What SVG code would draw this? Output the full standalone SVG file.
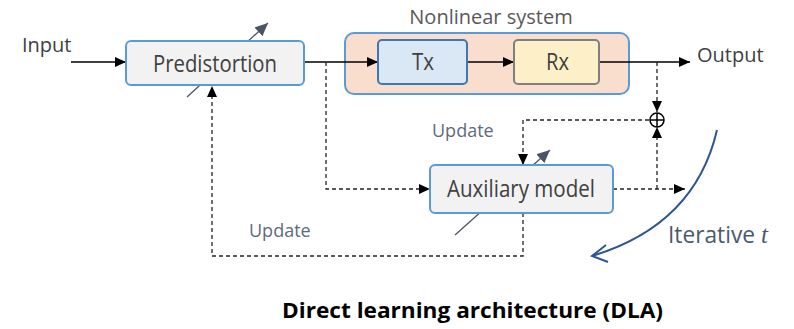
<svg xmlns="http://www.w3.org/2000/svg" width="794" height="329" viewBox="0 0 794 329">
<style>
text{font-family:"Open Sans","Noto Sans",sans-serif;}
.lbl{font-size:20px;fill:#404040;}
.big{font-size:23px;fill:#404040;}
.upd{font-size:18px;fill:#5d6b80;}
.box{fill:#f2f2f2;stroke:#5b9bd5;stroke-width:2;}
.solid{fill:none;stroke:#000;stroke-width:1.3;}
.dash{fill:none;stroke:#222;stroke-width:1.3;stroke-dasharray:4 3;}
.adj{fill:none;stroke:#4a5568;stroke-width:1.3;}
</style>
<defs>
<marker id="ah" markerUnits="userSpaceOnUse" markerWidth="12" markerHeight="10" refX="11" refY="5" orient="auto">
<path d="M0,0 L11,5 L0,10 z" fill="#000"/>
</marker>
<marker id="adjh" markerUnits="userSpaceOnUse" markerWidth="14" markerHeight="12" refX="13" refY="6" orient="auto">
<path d="M0,0 L13,6 L0,12 z" fill="#4a5568"/>
</marker>
</defs>
<rect width="794" height="329" fill="#fff"/>

<g id="nonlinear">
<rect x="345" y="33" width="284" height="61" rx="9" fill="#f9dece" stroke="#5b9bd5" stroke-width="2"/>
<text x="491" y="24" text-anchor="middle" style="font-size:20px;fill:#595959">Nonlinear system</text>
</g>

<g id="connectors">
<line class="solid" x1="71" y1="62" x2="126" y2="62" marker-end="url(#ah)"/>
<line class="solid" x1="304" y1="62" x2="378" y2="62" marker-end="url(#ah)"/>
<line class="solid" x1="467" y1="62" x2="514" y2="62" marker-end="url(#ah)"/>
<line class="solid" x1="599" y1="62" x2="690" y2="62" marker-end="url(#ah)"/>
<polyline class="dash" points="326,62 326,189 430,189" marker-end="url(#ah)"/>
<line class="dash" x1="657" y1="62" x2="657" y2="112" marker-end="url(#ah)"/>
<polyline class="dash" points="613,189 685,189" marker-end="url(#ah)"/>
<line class="dash" x1="657" y1="189" x2="657" y2="127" marker-end="url(#ah)"/>
<polyline class="dash" points="649,120 523,120 523,165" marker-end="url(#ah)"/>
<polyline class="dash" points="523,213 523,256 212,256 212,86" marker-end="url(#ah)"/>
</g>

<g id="sum">
<circle cx="657" cy="120" r="7" fill="#fff" stroke="#000" stroke-width="1.5"/>
<line x1="650" y1="120" x2="664" y2="120" stroke="#000" stroke-width="1.5"/>
<line x1="657" y1="113" x2="657" y2="127" stroke="#000" stroke-width="1.5"/>
</g>

<text class="lbl" x="22" y="52">Input</text>
<text class="lbl" x="697" y="62">Output</text>

<g id="predistortion">
<line class="adj" x1="187" y1="97" x2="268" y2="23" marker-end="url(#adjh)"/>
<rect class="box" x="126" y="41" width="178" height="44" rx="5"/>
<text class="big" x="153" y="71.5" textLength="124" lengthAdjust="spacingAndGlyphs">Predistortion</text>
</g>

<g id="tx">
<rect x="378" y="40" width="89" height="44" rx="4" fill="#dae8f5" stroke="#3f77b0" stroke-width="2"/>
<text class="big" x="412" y="70" textLength="22" lengthAdjust="spacingAndGlyphs">Tx</text>
</g>

<g id="rx">
<rect x="514" y="40" width="85" height="44" rx="4" fill="#fdf0c8" stroke="#7f7f7f" stroke-width="2"/>
<text class="big" x="546" y="70" textLength="23" lengthAdjust="spacingAndGlyphs">Rx</text>
</g>

<g id="auxiliary">
<line class="adj" x1="455" y1="235" x2="550" y2="150" marker-end="url(#adjh)"/>
<rect class="box" x="430" y="165" width="183" height="48" rx="5"/>
<text class="big" x="447" y="196.5" textLength="148" lengthAdjust="spacingAndGlyphs">Auxiliary model</text>
</g>

<text class="upd" x="432" y="137">Update</text>
<text class="upd" x="249" y="237">Update</text>

<g id="iterative">
<path d="M717,130 Q695,225 592,256" fill="none" stroke="#2f5597" stroke-width="2"/>
<path d="M606,245 L592,256 L608,262" fill="none" stroke="#2f5597" stroke-width="2"/>
<text x="668" y="243" style="font-size:23px;fill:#4a5a6e"><tspan textLength="87" lengthAdjust="spacingAndGlyphs">Iterative</tspan> <tspan style="font-style:italic;font-family:'Liberation Serif',serif;font-size:25px">t</tspan></text>
</g>

<text x="282" y="318" textLength="381" lengthAdjust="spacingAndGlyphs" style="font-size:21.5px;font-weight:bold;fill:#000">Direct learning architecture (DLA)</text>
</svg>
